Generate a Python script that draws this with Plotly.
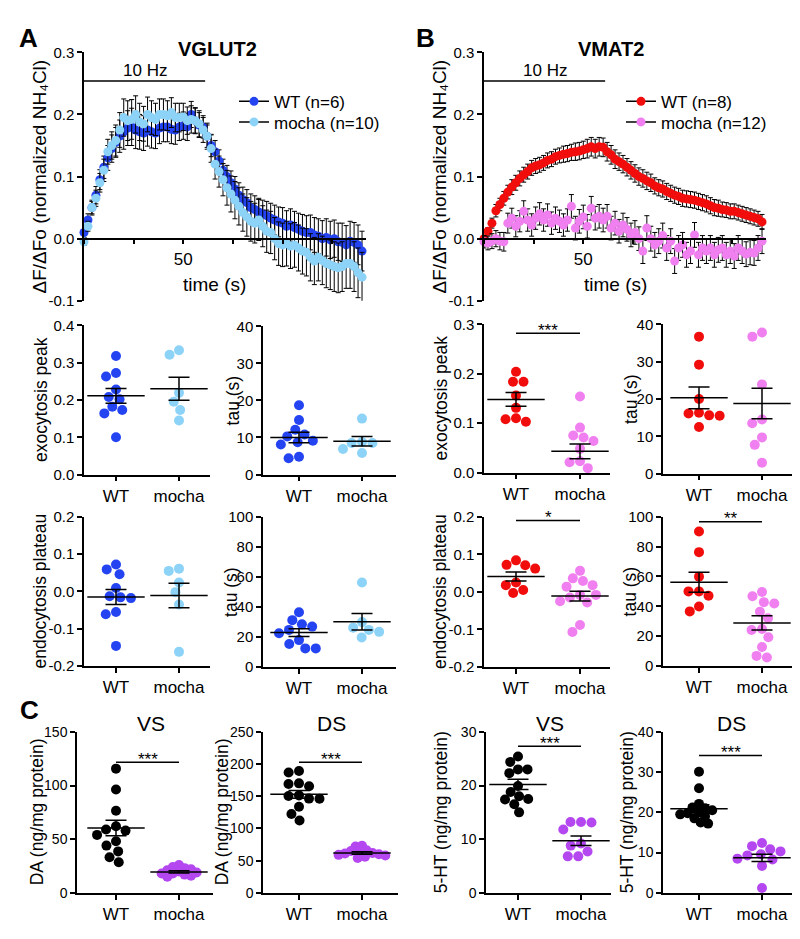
import math
import plotly.graph_objects as go

W, H = 800, 939
FONT = "Liberation Sans, Arial, Helvetica, sans-serif"

# ---------------- time-course data (panels A and B, top) ----------------
TIME_S = [0, 2, 4, 6, 8, 10, 12, 14, 16, 18, 20, 22, 24, 26, 28, 30, 32, 34, 36, 38,
          40, 42, 44, 46, 48, 50, 52, 54, 56, 58, 60, 62, 64, 66, 68, 70, 72, 74, 76, 78,
          80, 82, 84, 86, 88, 90, 92, 94, 96, 98, 100, 102, 104, 106, 108, 110, 112, 114,
          116, 118, 120, 122, 124, 126, 128, 130, 132, 134, 136, 138, 140]

A_WT = [0.010, 0.030, 0.050, 0.070, 0.095, 0.115, 0.130, 0.145, 0.155, 0.165,
        0.172, 0.178, 0.180, 0.175, 0.172, 0.170, 0.175, 0.172, 0.170, 0.178,
        0.180, 0.180, 0.176, 0.175, 0.180, 0.182, 0.180, 0.200, 0.190, 0.183,
        0.180, 0.165, 0.150, 0.140, 0.125, 0.110, 0.100, 0.090, 0.080, 0.070,
        0.063, 0.058, 0.050, 0.047, 0.043, 0.040, 0.037, 0.033, 0.030, 0.027,
        0.025, 0.020, 0.022, 0.018, 0.015, 0.012, 0.010, 0.010, 0.006, 0.004,
        0.000, 0.002, -0.002, 0.000, -0.005, -0.006, -0.010, -0.004, -0.006, -0.010,
        -0.020]
A_WT_ERR = [0.008, 0.010, 0.012, 0.014, 0.016, 0.018, 0.020, 0.022, 0.024, 0.026,
            0.028, 0.028, 0.030, 0.030, 0.028, 0.028, 0.026, 0.026, 0.025, 0.025,
            0.024, 0.024, 0.023, 0.023, 0.022, 0.022, 0.022, 0.021, 0.020, 0.020,
            0.018, 0.018, 0.018, 0.018, 0.018, 0.018, 0.018, 0.019, 0.020, 0.020,
            0.020, 0.021, 0.022, 0.022, 0.022, 0.022, 0.023, 0.024, 0.024, 0.024,
            0.025, 0.025, 0.026, 0.026, 0.026, 0.027, 0.027, 0.028, 0.028, 0.028,
            0.029, 0.030, 0.030, 0.030, 0.030, 0.031, 0.031, 0.032, 0.032, 0.032,
            0.032]
A_MO = [-0.005, 0.020, 0.050, 0.065, 0.090, 0.110, 0.140, 0.150, 0.158, 0.175,
        0.195, 0.190, 0.192, 0.200, 0.188, 0.185, 0.200, 0.195, 0.192, 0.200,
        0.200, 0.198, 0.203, 0.195, 0.195, 0.196, 0.190, 0.192, 0.190, 0.185,
        0.175, 0.165, 0.145, 0.120, 0.108, 0.095, 0.082, 0.072, 0.062, 0.052,
        0.042, 0.035, 0.028, 0.025, 0.030, 0.020, 0.012, 0.010, 0.000, -0.008,
        -0.010, -0.008, -0.012, -0.010, -0.015, -0.020, -0.022, -0.030, -0.036, -0.030,
        -0.035, -0.040, -0.042, -0.045, -0.047, -0.045, -0.040, -0.040, -0.045, -0.055,
        -0.062]
A_MO_ERR = [0.006, 0.008, 0.010, 0.013, 0.015, 0.018, 0.020, 0.022, 0.025, 0.028,
            0.030, 0.032, 0.032, 0.030, 0.030, 0.028, 0.028, 0.027, 0.026, 0.025,
            0.025, 0.024, 0.024, 0.023, 0.023, 0.022, 0.022, 0.022, 0.021, 0.021,
            0.020, 0.021, 0.022, 0.024, 0.025, 0.026, 0.028, 0.029, 0.030, 0.030,
            0.030, 0.031, 0.032, 0.032, 0.033, 0.033, 0.034, 0.034, 0.034, 0.035,
            0.035, 0.036, 0.036, 0.036, 0.037, 0.037, 0.038, 0.038, 0.038, 0.038,
            0.039, 0.039, 0.040, 0.040, 0.040, 0.040, 0.040, 0.040, 0.040, 0.040,
            0.040]

B_WT = [0.000, 0.012, 0.025, 0.045, 0.055, 0.065, 0.075, 0.083, 0.090, 0.097,
        0.103, 0.108, 0.114, 0.117, 0.119, 0.122, 0.126, 0.128, 0.132, 0.134,
        0.136, 0.137, 0.139, 0.140, 0.141, 0.143, 0.145, 0.148, 0.145, 0.148,
        0.147, 0.140, 0.135, 0.128, 0.124, 0.120, 0.115, 0.110, 0.105, 0.100,
        0.097, 0.093, 0.090, 0.085, 0.082, 0.080, 0.076, 0.073, 0.070, 0.068,
        0.065, 0.064, 0.063, 0.062, 0.060, 0.058, 0.056, 0.053, 0.050, 0.049,
        0.047, 0.046, 0.044, 0.044, 0.042, 0.040, 0.038, 0.036, 0.034, 0.032,
        0.027]
B_WT_ERR = [0.004, 0.006, 0.008, 0.010, 0.010, 0.011, 0.011, 0.012, 0.012, 0.012,
            0.012, 0.012, 0.012, 0.012, 0.012, 0.012, 0.012, 0.012, 0.012, 0.012,
            0.013, 0.013, 0.013, 0.014, 0.014, 0.014, 0.015, 0.015, 0.015, 0.015,
            0.015, 0.015, 0.015, 0.015, 0.014, 0.014, 0.014, 0.014, 0.014, 0.014,
            0.014, 0.014, 0.014, 0.013, 0.013, 0.013, 0.013, 0.013, 0.013, 0.013,
            0.013, 0.013, 0.013, 0.013, 0.013, 0.013, 0.013, 0.013, 0.013, 0.013,
            0.012, 0.012, 0.012, 0.012, 0.012, 0.012, 0.012, 0.012, 0.012, 0.012,
            0.012]
B_MO = [-0.005, -0.007, -0.004, 0.000, -0.004, -0.005, 0.025, 0.033, 0.020, 0.028,
        0.044, 0.030, 0.022, 0.033, 0.040, 0.030, 0.038, 0.025, 0.033, 0.028,
        0.022, 0.030, 0.052, 0.017, 0.028, 0.035, 0.020, 0.049, 0.033, 0.036,
        0.030, 0.036, 0.017, 0.025, 0.012, 0.022, 0.015, 0.006, 0.010, 0.000,
        -0.020, 0.017, 0.000, -0.010, -0.004, 0.005, -0.015, -0.004, -0.036, -0.015,
        -0.010, -0.026, -0.020, 0.006, -0.026, -0.015, -0.020, -0.015, -0.026, -0.018,
        -0.015, -0.026, -0.020, -0.028, -0.015, -0.020, -0.025, -0.022, -0.023, -0.015,
        -0.004]
B_MO_ERR = [0.010, 0.011, 0.012, 0.013, 0.014, 0.015, 0.016, 0.016, 0.017, 0.017,
            0.017, 0.018, 0.018, 0.018, 0.018, 0.018, 0.018, 0.018, 0.018, 0.018,
            0.018, 0.018, 0.019, 0.019, 0.019, 0.019, 0.019, 0.019, 0.019, 0.019,
            0.019, 0.019, 0.019, 0.019, 0.019, 0.019, 0.019, 0.019, 0.019, 0.019,
            0.020, 0.020, 0.020, 0.020, 0.020, 0.020, 0.020, 0.020, 0.020, 0.020,
            0.020, 0.020, 0.020, 0.020, 0.020, 0.020, 0.020, 0.020, 0.020, 0.020,
            0.020, 0.020, 0.020, 0.020, 0.020, 0.020, 0.020, 0.020, 0.020, 0.020,
            0.020]

STIM_END_S = 61
TRACE_YTICKS = [-0.1, 0.0, 0.1, 0.2, 0.3]
TRACE_XLABELED = [50]
TRACE_XMINOR = [0, 25, 75, 100, 125]

# ---------------- scatter (dot-plot) data ----------------
GROUPS = ["WT", "mocha"]

A_EXO_PEAK_WT = [0.318, 0.272, 0.263, 0.228, 0.202, 0.208, 0.173, 0.182, 0.164, 0.100]
A_EXO_PEAK_MO = [0.321, 0.333, 0.219, 0.195, 0.173, 0.145]
A_EXO_PEAK_MEAN = [0.211, 0.230]
A_EXO_PEAK_SEM = [0.020, 0.031]

A_EXO_TAU_WT = [18.7, 14.7, 12.1, 10.8, 10.3, 9.1, 8.7, 8.1, 4.8, 4.4]
A_EXO_TAU_MO = [15.1, 8.5, 8.5, 8.8, 6.9, 5.8]
A_EXO_TAU_MEAN = [10.0, 9.0]
A_EXO_TAU_SEM = [1.4, 1.3]

B_EXO_PEAK_WT = [0.184, 0.184, 0.204, 0.156, 0.131, 0.110, 0.108, 0.103]
B_EXO_PEAK_MO = [0.154, 0.091, 0.075, 0.071, 0.064, 0.048, 0.023, 0.021, 0.009]
B_EXO_PEAK_MEAN = [0.148, 0.043]
B_EXO_PEAK_SEM = [0.014, 0.015]

B_EXO_TAU_WT = [36.7, 29.2, 20.0, 16.1, 15.6, 15.5, 16.3, 12.5]
B_EXO_TAU_MO = [36.7, 37.8, 23.9, 14.5, 13.5, 9.7, 7.7, 2.9]
B_EXO_TAU_MEAN = [20.3, 18.8]
B_EXO_TAU_SEM = [2.9, 4.1]

A_ENDO_PL_WT = [0.072, 0.059, 0.046, 0.009, -0.018, -0.013, -0.016, -0.055, -0.061, -0.146]
A_ENDO_PL_MO = [0.061, 0.055, 0.024, -0.002, -0.035, -0.162]
A_ENDO_PL_MEAN = [-0.015, -0.011]
A_ENDO_PL_SEM = [0.020, 0.033]

A_ENDO_TAU_WT = [36.5, 31.2, 28.4, 26.9, 24.7, 22.5, 17.9, 15.3, 12.4, 12.4]
A_ENDO_TAU_MO = [56.3, 29.9, 26.2, 24.7, 23.4, 19.7]
A_ENDO_TAU_MEAN = [22.9, 30.1]
A_ENDO_TAU_SEM = [2.6, 5.5]

B_ENDO_PL_WT = [0.084, 0.071, 0.072, 0.062, 0.025, 0.018, 0.005, -0.003]
B_ENDO_PL_MO = [0.056, 0.036, 0.029, 0.018, 0.014, -0.008, -0.008, -0.015, -0.025,
                -0.028, -0.088, -0.107]
B_ENDO_PL_MEAN = [0.041, -0.011]
B_ENDO_PL_SEM = [0.012, 0.013]

B_ENDO_TAU_WT = [90.1, 76.3, 59.9, 50.0, 50.0, 47.1, 39.9, 36.6]
B_ENDO_TAU_MO = [49.6, 46.7, 42.8, 41.9, 36.4, 32.0, 24.8, 24.1, 19.3, 12.7, 6.8, 5.7]
B_ENDO_TAU_MEAN = [56.1, 28.9]
B_ENDO_TAU_SEM = [6.7, 4.8]

DA_VS_WT = [115.7, 96.2, 76.5, 62.0, 59.0, 58.0, 54.0, 48.0, 44.0, 38.6, 33.1, 28.5]
DA_VS_MO = [26, 24, 23, 22, 21, 20, 19, 18, 18, 17, 16, 15]
DA_VS_MEAN = [60.4, 19.5]
DA_VS_SEM = [7.3, 1.0]

DA_DS_WT = [189.3, 186.8, 170.0, 165.5, 169.0, 150.3, 146.3, 146.0, 151.3, 133.6, 122.5, 112.3]
DA_DS_MO = [73, 72, 66, 65, 63, 62, 61, 60, 59, 58, 56, 54]
DA_DS_MEAN = [153.0, 62.0]
DA_DS_SEM = [6.0, 2.0]

HT_VS_WT = [25.4, 24.4, 23.0, 22.3, 23.0, 19.9, 18.8, 17.4, 17.5, 18.0, 16.5, 15.0]
HT_VS_MO = [13.2, 13.1, 13.2, 11.8, 8.8, 9.2, 7.7, 6.8, 6.8]
HT_VS_MEAN = [20.2, 9.7]
HT_VS_SEM = [0.95, 0.9]

HT_DS_WT = [30.1, 26.0, 22.1, 21.2, 21.0, 20.5, 20.0, 19.8, 19.5, 19.0, 18.5, 17.5, 17.2]
HT_DS_MO = [11.6, 12.4, 10.3, 10.8, 9.6, 8.3, 8.5, 9.3, 6.7, 1.2]
HT_DS_MEAN = [20.9, 8.7]
HT_DS_SEM = [1.0, 0.9]

# ---------------- colours ----------------
A_WT_COLOR = "#2444F2"
A_MO_COLOR = "#8DD3F8"
B_WT_COLOR = "#F20D0D"
B_MO_COLOR = "#F07FF0"
C_WT_COLOR = "#000000"
C_MO_COLOR = "#B447F0"

# ---------------- helpers ----------------
fig = go.Figure()
annotations = []
shapes = []
layout = dict(width=W, height=H, margin=dict(l=0, r=0, t=0, b=0),
              paper_bgcolor="white", plot_bgcolor="white",
              font=dict(family=FONT, color="black"), showlegend=True)


def fx(px):
    return px / W


def fy(py):
    return 1 - py / H


def ann(text, xpx, ypx, size, angle=0, **kw):
    d = dict(text=text, x=fx(xpx), y=fy(ypx), xref="paper", yref="paper",
             showarrow=False, font=dict(family=FONT, size=size, color="black"),
             textangle=angle, xanchor="center", yanchor="middle")
    d.update(kw)
    annotations.append(d)


def axis_base(size):
    return dict(showline=True, linecolor="black", linewidth=1.5, ticks="outside",
                ticklen=5, tickwidth=1.5, tickcolor="black", showgrid=False,
                zeroline=False, fixedrange=True,
                tickfont=dict(family=FONT, size=size, color="black"))


def ticktext(vals, dec):
    return [f"{v:.{dec}f}" for v in vals]


def ax_names(n):
    return ("xaxis" if n == 1 else f"xaxis{n}", "yaxis" if n == 1 else f"yaxis{n}",
            "x" if n == 1 else f"x{n}", "y" if n == 1 else f"y{n}")


def swarm(values, px_per_unit, diam):
    order = sorted(range(len(values)), key=lambda i: -values[i])
    placed = []
    offs = [0.0] * len(values)
    for i in order:
        y = values[i] * px_per_unit
        blocked = []
        for yy, xx in placed:
            dy = abs(y - yy)
            if dy < diam:
                w = math.sqrt(diam ** 2 - dy ** 2)
                blocked.append((xx - w, xx + w))
        cands = [0.0] + [b[0] for b in blocked] + [b[1] for b in blocked]
        cands.sort(key=lambda c: (round(abs(c), 6), c))
        x = 0.0
        for c in cands:
            if all(not (lo + 1e-6 < c < hi - 1e-6) for lo, hi in blocked):
                x = c
                break
        placed.append((y, x))
        offs[i] = x
    return offs


# ---------------- time-course panels ----------------
trace_panels = [
    dict(n=1, xbox=(76, 358), ybox=(36, 289), title="<b>VGLUT2</b>", tx=209,
         series=[("WT (n=6)", A_WT, A_WT_ERR, A_WT_COLOR),
                 ("mocha (n=10)", A_MO, A_MO_ERR, A_MO_COLOR)],
         legends=("legend", "legend2"), legx=226, ytitle_x=32, xtitle_x=207),
    dict(n=2, xbox=(476, 758), ybox=(36, 289), title="<b>VMAT2</b>", tx=603,
         series=[("WT (n=8)", B_WT, B_WT_ERR, B_WT_COLOR),
                 ("mocha (n=12)", B_MO, B_MO_ERR, B_MO_COLOR)],
         legends=("legend3", "legend4"), legx=613, ytitle_x=432, xtitle_x=607),
]
LEGEND_TOPS = (68, 89)

for p in trace_panels:
    xa, ya, xr, yr = ax_names(p["n"])
    (x0, x1), (y0, y1) = p["xbox"], p["ybox"]
    ymin, ymax = -0.1, 0.3
    zero_px = y1 - (0 - ymin) / (ymax - ymin) * (y1 - y0)
    xaxis = axis_base(17)
    xaxis.update(domain=[fx(x0), fx(x1)], range=[0, 142], anchor="free",
                 position=fy(zero_px), tickvals=TRACE_XLABELED,
                 minor=dict(tickvals=TRACE_XMINOR, ticks="outside", ticklen=5,
                            tickwidth=1.5, tickcolor="black", showgrid=False))
    yaxis = axis_base(15)
    yaxis.update(domain=[fy(y1), fy(y0)], range=[ymin, ymax], anchor=xr,
                 tickvals=TRACE_YTICKS, ticktext=ticktext(TRACE_YTICKS, 1))
    layout[xa] = xaxis
    layout[ya] = yaxis
    for name, vals, errs, col in p["series"]:
        fig.add_trace(go.Scatter(
            x=TIME_S, y=vals, mode="markers", xaxis=xr, yaxis=yr, showlegend=False,
            marker=dict(size=9, color=col, line=dict(width=0)), cliponaxis=False,
            error_y=dict(type="data", array=errs, color="black", thickness=1, width=2.5),
            hoverinfo="skip"))
    for (name, vals, errs, col), lg, top in zip(p["series"], p["legends"], LEGEND_TOPS):
        fig.add_trace(go.Scatter(
            x=[None], y=[None], mode="lines+markers", name=name, xaxis=xr, yaxis=yr,
            legend=lg, line=dict(color="black", width=1.5),
            marker=dict(size=9, color=col)))
        layout[lg] = dict(x=fx(p["legx"]), y=fy(top), xanchor="left", yanchor="top",
                          font=dict(family=FONT, size=17, color="black"),
                          bgcolor="rgba(0,0,0,0)", borderwidth=0)
    # stimulation bar
    shapes.append(dict(type="line", xref=xr, yref=yr, x0=0, x1=STIM_END_S, y0=0.254, y1=0.254,
                       line=dict(color="black", width=1.5)))
    annotations.append(dict(text="10 Hz", xref=xr, yref=yr, x=STIM_END_S / 2, y=0.254,
                            yanchor="bottom", showarrow=False, yshift=-1,
                            font=dict(family=FONT, size=17, color="black")))
    ann(p["title"], p["tx"], 33, 20)
    ann("time (s)", p["xtitle_x"], 272, 19)
    ann("ΔF/ΔFo (normalized NH₄Cl)", p["ytitle_x"], (y0 + y1) / 2, 19, angle=-90)

# ---------------- dot-plot panels ----------------
dot_panels = [
    dict(wt=A_EXO_PEAK_WT, mo=A_EXO_PEAK_MO, mean=A_EXO_PEAK_MEAN, sem=A_EXO_PEAK_SEM,
         cols=(A_WT_COLOR, A_MO_COLOR), xbox=(76, 202), ybox=(314, 466), cx=(108, 171),
         yr=(0, 0.4), ticks=[0, 0.1, 0.2, 0.3, 0.4], dec=1, ylab="exocytosis peak", labx=33),
    dict(wt=A_EXO_TAU_WT, mo=A_EXO_TAU_MO, mean=A_EXO_TAU_MEAN, sem=A_EXO_TAU_SEM,
         cols=(A_WT_COLOR, A_MO_COLOR), xbox=(255, 388), ybox=(315, 466), cx=(291, 354),
         yr=(0, 40), ticks=[0, 10, 20, 30, 40], dec=0, ylab="tau (s)", labx=225),
    dict(wt=B_EXO_PEAK_WT, mo=B_EXO_PEAK_MO, mean=B_EXO_PEAK_MEAN, sem=B_EXO_PEAK_SEM,
         cols=(B_WT_COLOR, B_MO_COLOR), xbox=(476, 602), ybox=(313, 464), cx=(508, 572),
         yr=(0, 0.3), ticks=[0, 0.1, 0.2, 0.3], dec=1, ylab="exocytosis peak", labx=433,
         sig=(0.282, "***")),
    dict(wt=B_EXO_TAU_WT, mo=B_EXO_TAU_MO, mean=B_EXO_TAU_MEAN, sem=B_EXO_TAU_SEM,
         cols=(B_WT_COLOR, B_MO_COLOR), xbox=(655, 787), ybox=(313, 465), cx=(691, 754),
         yr=(0, 40), ticks=[0, 10, 20, 30, 40], dec=0, ylab="tau (s)", labx=623),
    dict(wt=A_ENDO_PL_WT, mo=A_ENDO_PL_MO, mean=A_ENDO_PL_MEAN, sem=A_ENDO_PL_SEM,
         cols=(A_WT_COLOR, A_MO_COLOR), xbox=(76, 202), ybox=(509, 661), cx=(108, 171),
         yr=(-0.2, 0.2), ticks=[-0.2, -0.1, 0, 0.1, 0.2], dec=1, ylab="endocytosis plateau",
         labx=32),
    dict(wt=A_ENDO_TAU_WT, mo=A_ENDO_TAU_MO, mean=A_ENDO_TAU_MEAN, sem=A_ENDO_TAU_SEM,
         cols=(A_WT_COLOR, A_MO_COLOR), xbox=(255, 388), ybox=(509, 662), cx=(291, 354),
         yr=(0, 100), ticks=[0, 20, 40, 60, 80, 100], dec=0, ylab="tau (s)", labx=223),
    dict(wt=B_ENDO_PL_WT, mo=B_ENDO_PL_MO, mean=B_ENDO_PL_MEAN, sem=B_ENDO_PL_SEM,
         cols=(B_WT_COLOR, B_MO_COLOR), xbox=(476, 602), ybox=(509, 662), cx=(508, 572),
         yr=(-0.2, 0.2), ticks=[-0.2, -0.1, 0, 0.1, 0.2], dec=1, ylab="endocytosis plateau",
         labx=432, sig=(0.19, "*")),
    dict(wt=B_ENDO_TAU_WT, mo=B_ENDO_TAU_MO, mean=B_ENDO_TAU_MEAN, sem=B_ENDO_TAU_SEM,
         cols=(B_WT_COLOR, B_MO_COLOR), xbox=(655, 787), ybox=(509, 661), cx=(691, 754),
         yr=(0, 100), ticks=[0, 20, 40, 60, 80, 100], dec=0, ylab="tau (s)", labx=622,
         sig=(96.7, "**")),
    dict(wt=DA_VS_WT, mo=DA_VS_MO, mean=DA_VS_MEAN, sem=DA_VS_SEM,
         cols=(C_WT_COLOR, C_MO_COLOR), xbox=(69, 205), ybox=(728, 892), cx=(108, 171),
         yr=(0, 150), ticks=[0, 50, 100, 150], dec=0, ylab="DA (ng/mg protein)", labx=29,
         sig=(121.6, "***"), title=("VS", 143), diam=(10.5, 6.5), tfs=14),
    dict(wt=DA_DS_WT, mo=DA_DS_MO, mean=DA_DS_MEAN, sem=DA_DS_SEM,
         cols=(C_WT_COLOR, C_MO_COLOR), xbox=(255, 390), ybox=(728, 892), cx=(291, 354),
         yr=(0, 250), ticks=[0, 50, 100, 150, 200, 250], dec=0, ylab="DA (ng/mg protein)",
         labx=214, sig=(202.7, "***"), title=("DS", 323), diam=(10.5, 6.5), tfs=14),
    dict(wt=HT_VS_WT, mo=HT_VS_MO, mean=HT_VS_MEAN, sem=HT_VS_SEM,
         cols=(C_WT_COLOR, C_MO_COLOR), xbox=(478, 603), ybox=(728, 892), cx=(510, 573),
         yr=(0, 30), ticks=[0, 10, 20, 30], dec=0, ylab="5-HT (ng/mg protein)", labx=433,
         sig=(27.3, "***"), title=("VS", 542), diam=(9.5, 10.5), tfs=14),
    dict(wt=HT_DS_WT, mo=HT_DS_MO, mean=HT_DS_MEAN, sem=HT_DS_SEM,
         cols=(C_WT_COLOR, C_MO_COLOR), xbox=(655, 788), ybox=(728, 892), cx=(691, 754),
         yr=(0, 40), ticks=[0, 10, 20, 30, 40], dec=0, ylab="5-HT (ng/mg protein)", labx=619,
         sig=(34.1, "***"), title=("DS", 723), diam=(7.5, 10.5), tfs=14),
]

for k, p in enumerate(dot_panels):
    n = k + 3
    xa, ya, xr, yr = ax_names(n)
    (x0, x1), (y0, y1), (cw, cm) = p["xbox"], p["ybox"], p["cx"]
    unit = cm - cw
    xlo = -(cw - x0) / unit
    xhi = 1 + (x1 - cm) / unit
    xaxis = axis_base(17)
    xaxis.update(domain=[fx(x0), fx(x1)], range=[xlo, xhi], anchor=yr,
                 tickvals=[0, 1], ticktext=GROUPS)
    yaxis = axis_base(p.get("tfs", 15))
    yaxis.update(domain=[fy(y1), fy(y0)], range=list(p["yr"]), anchor=xr,
                 tickvals=p["ticks"], ticktext=ticktext(p["ticks"], p["dec"]))
    layout[xa] = xaxis
    layout[ya] = yaxis
    px_per_unit = (y1 - y0) / (p["yr"][1] - p["yr"][0])
    diams = p.get("diam", (10.5, 10.5))
    for gi, (vals, col) in enumerate(((p["wt"], p["cols"][0]), (p["mo"], p["cols"][1]))):
        offs = swarm(vals, px_per_unit, diams[gi])
        fig.add_trace(go.Scatter(
            x=[gi + o / unit for o in offs], y=vals, mode="markers", xaxis=xr, yaxis=yr,
            showlegend=False, cliponaxis=False, hoverinfo="skip",
            marker=dict(size=10, color=col, line=dict(width=0))))
    fig.add_trace(go.Scatter(
        x=[0, 1], y=p["mean"], mode="markers", xaxis=xr, yaxis=yr, showlegend=False,
        cliponaxis=False, hoverinfo="skip",
        marker=dict(symbol="line-ew", size=41, color="black", line=dict(width=1.5, color="black")),
        error_y=dict(type="data", array=p["sem"], color="black", thickness=1.5, width=10.5)))
    ann(p["ylab"], p["labx"], (y0 + y1) / 2, 17.5, angle=-90)
    if "sig" in p:
        sy, stars = p["sig"]
        shapes.append(dict(type="line", xref=xr, yref=yr, x0=0, x1=1, y0=sy, y1=sy,
                           line=dict(color="black", width=1.5)))
        annotations.append(dict(text=stars, xref=xr, yref=yr, x=0.5, y=sy, yanchor="middle",
                                yshift=3, showarrow=False,
                                font=dict(family=FONT, size=17, color="black")))
    if "title" in p:
        ann(p["title"][0], p["title"][1], 720, 21)

# panel letters
ann("<b>A</b>", 20, 21, 26)
ann("<b>B</b>", 417, 21, 26)
ann("<b>C</b>", 21, 706, 26)

layout["annotations"] = annotations
layout["shapes"] = shapes
fig.update_layout(**layout)
fig.write_html("out.html")
